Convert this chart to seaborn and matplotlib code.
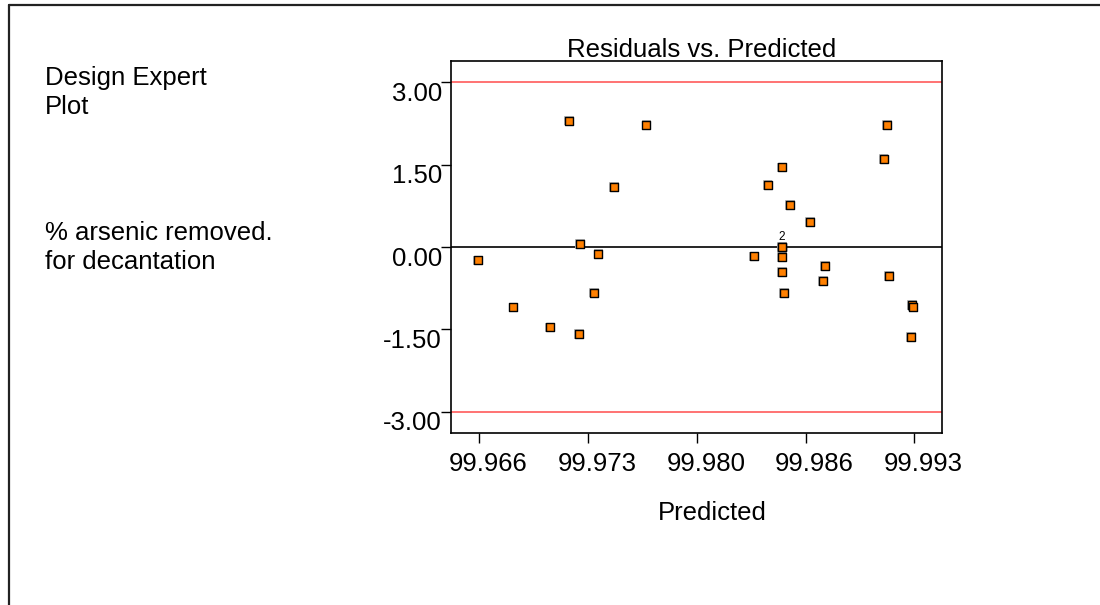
import numpy as np
import pandas as pd
import matplotlib
matplotlib.use("Agg")
import matplotlib.pyplot as plt
import matplotlib.transforms as mtransforms
from matplotlib.lines import Line2D
import seaborn as sns

# ---- data ----
predicted = [99.97155, 99.97637, 99.99129, 99.99110, 99.98478, 99.97436, 99.98389,
             99.98528, 99.98654, 99.97223, 99.98478, 99.98478, 99.96589, 99.97339,
             99.98302, 99.98478, 99.98478, 99.98491, 99.98745, 99.98735, 99.99143,
             99.99284, 99.99290, 99.99280, 99.97312, 99.96811, 99.97039, 99.97217]
residuals = [2.305, 2.22, 2.22, 1.60, 1.449, 1.09, 1.126,
             0.762, 0.458, 0.05, 0.0, 0.0, -0.246, -0.131,
             -0.173, -0.186, -0.453, -0.836, -0.35, -0.617, -0.532,
             -1.055, -1.085, -1.638, -0.83, -1.10, -1.467, -1.589]
x_ticks = [99.966, 99.97275, 99.9795, 99.98625, 99.993]
x_tick_labels = ["99.966", "99.973", "99.980", "99.986", "99.993"]
y_ticks = [3.0, 1.5, 0.0, -1.5, -3.0]
y_tick_labels = ["3.00", "1.50", "0.00", "-1.50", "-3.00"]
limit_lines = [3.0, -3.0]
overlap_x, overlap_y, overlap_label = 99.98478, 0.0, "2"

title = "Residuals vs. Predicted"
x_label = "Predicted"
side_text_1 = "Design Expert\nPlot"
side_text_2 = "% arsenic removed.\nfor decantation"

df = pd.DataFrame({"Predicted": predicted, "Residual": residuals})

sns.set_theme(style="white")
plt.rcParams["font.family"] = ["Liberation Sans", "DejaVu Sans"]
plt.rcParams["text.color"] = "black"
plt.rcParams["axes.labelcolor"] = "black"
plt.rcParams["xtick.color"] = "black"
plt.rcParams["ytick.color"] = "black"
plt.rcParams["axes.titlecolor"] = "black"
FS = 18.5

fig = plt.figure(figsize=(11, 6.05), dpi=100)
ax = fig.add_axes([451 / 1100, 1 - 433 / 605, 491 / 1100, 372 / 605])

# limit lines and zero line
for v in limit_lines:
    ax.axhline(v, color="#ff5a5a", lw=1.2, zorder=1)
ax.axhline(0.0, color="black", lw=1.2, zorder=1)

# shadow + points
sns.scatterplot(data=df, x="Predicted", y="Residual", marker="s", s=48,
                color="#bdbdbd", edgecolor="none", linewidth=0, ax=ax, zorder=2)
sns.scatterplot(data=df, x="Predicted", y="Residual", marker="s", s=30,
                color="#ff8000", edgecolor="black", linewidth=1.0, ax=ax, zorder=3)

ax.annotate(overlap_label, (overlap_x, overlap_y), xytext=(0, 7.5),
            textcoords="offset points", ha="center", va="center", fontsize=8.5,
            color="black")

ax.set_xlim(99.96424, 99.99472)
ax.set_ylim(-3.39, 3.39)
ax.set_xticks(x_ticks)
ax.set_xticklabels(x_tick_labels, fontsize=FS, color="black")
ax.set_yticks(y_ticks)
ax.set_yticklabels(y_tick_labels, fontsize=FS, color="black")
ax.tick_params(axis="both", direction="out", length=7.5, width=1, color="black",
               labelcolor="black", left=True, bottom=True)
ax.tick_params(axis="y", pad=-1)
ax.tick_params(axis="x", pad=6)

# shift tick labels like the original renderer does
dy = mtransforms.ScaledTranslation(0, -9 / 100, fig.dpi_scale_trans)
for lab in ax.get_yticklabels():
    lab.set_transform(lab.get_transform() + dy)
dx = mtransforms.ScaledTranslation(9 / 100, 0, fig.dpi_scale_trans)
for lab in ax.get_xticklabels():
    lab.set_transform(lab.get_transform() + dx)

for sp in ax.spines.values():
    sp.set_color("black")
    sp.set_linewidth(1.2)

ax.set_title(title, fontsize=FS, x=0.511, pad=3, color="black")
ax.set_xlabel(x_label, fontsize=FS, color="black")
ax.set_ylabel("")
ax.xaxis.set_label_coords((712 - 451) / 491, (433 - 513) / 372)
ax.xaxis.label.set_va("center")

fig.text(45 / 1100, 1 - 66 / 605, side_text_1, fontsize=FS, va="top", ha="left",
         linespacing=1.25, color="black")
fig.text(45 / 1100, 1 - 221 / 605, side_text_2, fontsize=FS, va="top", ha="left",
         linespacing=1.25, color="black")

# outer frame (left and top edges)
fig.add_artist(Line2D([9 / 1100, 9 / 1100], [0, 1 - 5 / 605], transform=fig.transFigure,
                      color="#222222", lw=1.6))
fig.add_artist(Line2D([9 / 1100, 1], [1 - 5 / 605, 1 - 5 / 605], transform=fig.transFigure,
                      color="#222222", lw=1.6))

fig.savefig("out.png", dpi=100)
